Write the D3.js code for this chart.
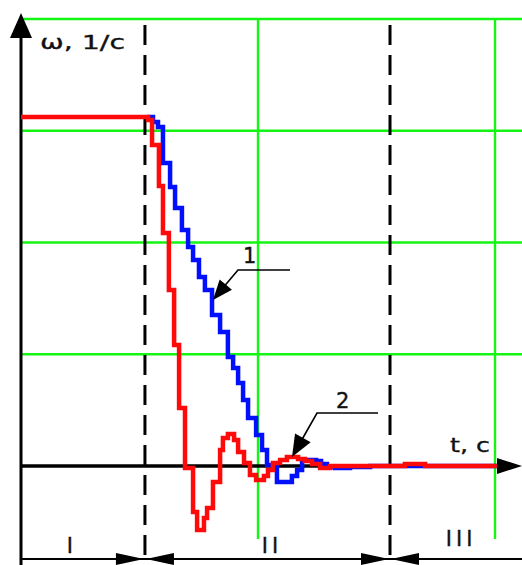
<!DOCTYPE html>
<html>
<head>
<meta charset="utf-8">
<script src="https://cdn.jsdelivr.net/npm/d3@7"></script>
<style>
  body { margin: 0; background: #fff; }
  svg text { font-family: 'DejaVu Sans', Verdana, sans-serif; fill: #111; stroke: #111; stroke-width: 0.35px; }
</style>
</head>
<body>
<div id="chart"></div>
<script>
// time (grid units), omega (grid units)
const blueT = [0.532, 0.557, 0.578, 0.599, 0.629, 0.650, 0.679, 0.705, 0.726, 0.751, 0.776, 0.806, 0.840,
               0.873, 0.895, 0.916, 0.937, 0.958, 0.992, 1.017, 1.038, 1.080, 1.143, 1.165, 1.186, 1.245,
               1.266, 1.291, 1.325, 1.388, 1.473, 2.008];
const blueW = [3.123, 3.078, 3.034, 2.711, 2.497, 2.309, 2.112, 1.960, 1.843, 1.691, 1.575, 1.351, 1.199,
               0.975, 0.877, 0.743, 0.591, 0.430, 0.277, 0.143, 0.009, -0.143, -0.089, -0.036, 0.054, 0.045,
               0.018, -0.009, -0.018, -0.009, 0.000, 0.000];
const redT = [0.000, 0.536, 0.553, 0.582, 0.599, 0.624, 0.646, 0.667, 0.692, 0.726, 0.743, 0.772, 0.785,
              0.810, 0.840, 0.852, 0.873, 0.899, 0.916, 0.941, 0.966, 0.992, 1.025, 1.042, 1.063, 1.093,
              1.122, 1.169, 1.198, 1.228, 1.262, 1.304, 1.620, 1.705, 2.008];
const redW = [3.123, 3.096, 2.872, 2.506, 2.085, 1.575, 1.083, 0.519, -0.018, -0.412, -0.573, -0.465, -0.376,
              -0.143, 0.143, 0.251, 0.286, 0.233, 0.125, 0.027, -0.081, -0.125, -0.089, -0.036, 0.027, 0.054,
              0.081, 0.063, 0.045, 0.018, -0.018, 0.000, 0.018, 0.000, 0.000];

const gridT = [1, 2];
const gridW = [1, 2, 3, 4];
const stageBounds = [0.523, 1.557];
const stageLabels = ['I', 'II', 'III'];
const stageLabelT = [0.215, 1.059, 1.857];

const width = 522, height = 565;
const svg = d3.select('#chart').append('svg')
    .attr('width', width)
    .attr('height', height);

const x = d3.scaleLinear().domain([0, 1]).range([21, 258]);
const y = d3.scaleLinear().domain([0, 4]).range([466, 19]);

function arrowHead(tx, ty, dx, dy, len, hw) {
    let n = Math.hypot(dx, dy);
    let ux = dx / n, uy = dy / n;
    let bx = tx - ux * len, by = ty - uy * len;
    return [[tx, ty], [bx - uy * hw, by + ux * hw], [bx + uy * hw, by - ux * hw]];
}
function tri(pts) {
    svg.append('polygon').attr('points', pts.map(p => p.join(',')).join(' ')).attr('fill', '#000');
}

//green grid
const gridGroup = svg.append('g').attr('stroke', '#14f514').attr('stroke-width', 2.4);
gridGroup.selectAll('.h').data(gridW).enter().append('line')
    .attr('x1', x(0)).attr('x2', width)
    .attr('y1', d => y(d)).attr('y2', d => y(d));
gridGroup.selectAll('.v').data(gridT).enter().append('line')
    .attr('x1', d => x(d)).attr('x2', d => x(d))
    .attr('y1', y(4)).attr('y2', y(-0.653));

//stage boundaries
svg.selectAll('.stage').data(stageBounds).enter().append('line')
    .attr('x1', d => x(d)).attr('x2', d => x(d))
    .attr('y1', 25).attr('y2', height)
    .attr('stroke', '#000').attr('stroke-width', 3)
    .attr('stroke-dasharray', '20,10');

//axes
svg.append('line').attr('x1', x(0)).attr('x2', x(0)).attr('y1', 30).attr('y2', height)
    .attr('stroke', '#000').attr('stroke-width', 3);
tri(arrowHead(x(0), 13, 0, -1, 25, 11));
svg.append('line').attr('x1', x(0)).attr('x2', 500).attr('y1', y(0)).attr('y2', y(0))
    .attr('stroke', '#000').attr('stroke-width', 3.5);
tri(arrowHead(522, y(0), 1, 0, 25, 8));

//curves
const line = d3.line()
    .x(d => x(d[0]))
    .y(d => y(d[1]))
    .curve(d3.curveStepAfter);
svg.append('path')
    .attr('d', line(d3.zip(blueT, blueW)))
    .attr('fill', 'none').attr('stroke', '#0010ff').attr('stroke-width', 4.5);
svg.append('path')
    .attr('d', line(d3.zip(redT, redW)))
    .attr('fill', 'none').attr('stroke', '#ff0a0a').attr('stroke-width', 4.5);

//axis labels
svg.append('text').attr('x', 40).attr('y', 49).attr('font-size', 20)
    .attr('textLength', 85).attr('lengthAdjust', 'spacingAndGlyphs').text('ω, 1/c');
svg.append('text').attr('x', 450).attr('y', 452).attr('font-size', 20)
    .attr('textLength', 40).attr('lengthAdjust', 'spacingAndGlyphs').text('t, c');

//curve labels with leaders
svg.append('text').attr('x', 243).attr('y', 263).attr('font-size', 21).text('1');
svg.append('polyline').attr('points', '290,270 238,270 222,289')
    .attr('fill', 'none').attr('stroke', '#000').attr('stroke-width', 1.6);
tri(arrowHead(213, 300, -25, 30, 20, 8));
svg.append('text').attr('x', 336).attr('y', 408).attr('font-size', 21).text('2');
svg.append('polyline').attr('points', '378,413 317,413 300,443')
    .attr('fill', 'none').attr('stroke', '#000').attr('stroke-width', 1.6);
tri(arrowHead(292, 457, -25, 44, 22, 9));

//stage dimension line
const dimY = 559;
svg.append('line').attr('x1', x(0)).attr('x2', width).attr('y1', dimY).attr('y2', dimY)
    .attr('stroke', '#000').attr('stroke-width', 2);
stageBounds.forEach(b => {
    tri(arrowHead(x(b) - 1, dimY, 1, 0, 28, 6));
    tri(arrowHead(x(b) + 1, dimY, -1, 0, 28, 6));
});
svg.selectAll('.stage-label').data(stageLabels).enter().append('text')
    .attr('x', (d, i) => x(stageLabelT[i]))
    .attr('y', (d, i) => i === 2 ? 546 : 553)
    .attr('text-anchor', 'middle')
    .attr('font-size', 21)
    .attr('letter-spacing', 4)
    .attr('stroke-width', 1.1)
    .text(d => d);
</script>
</body>
</html>
